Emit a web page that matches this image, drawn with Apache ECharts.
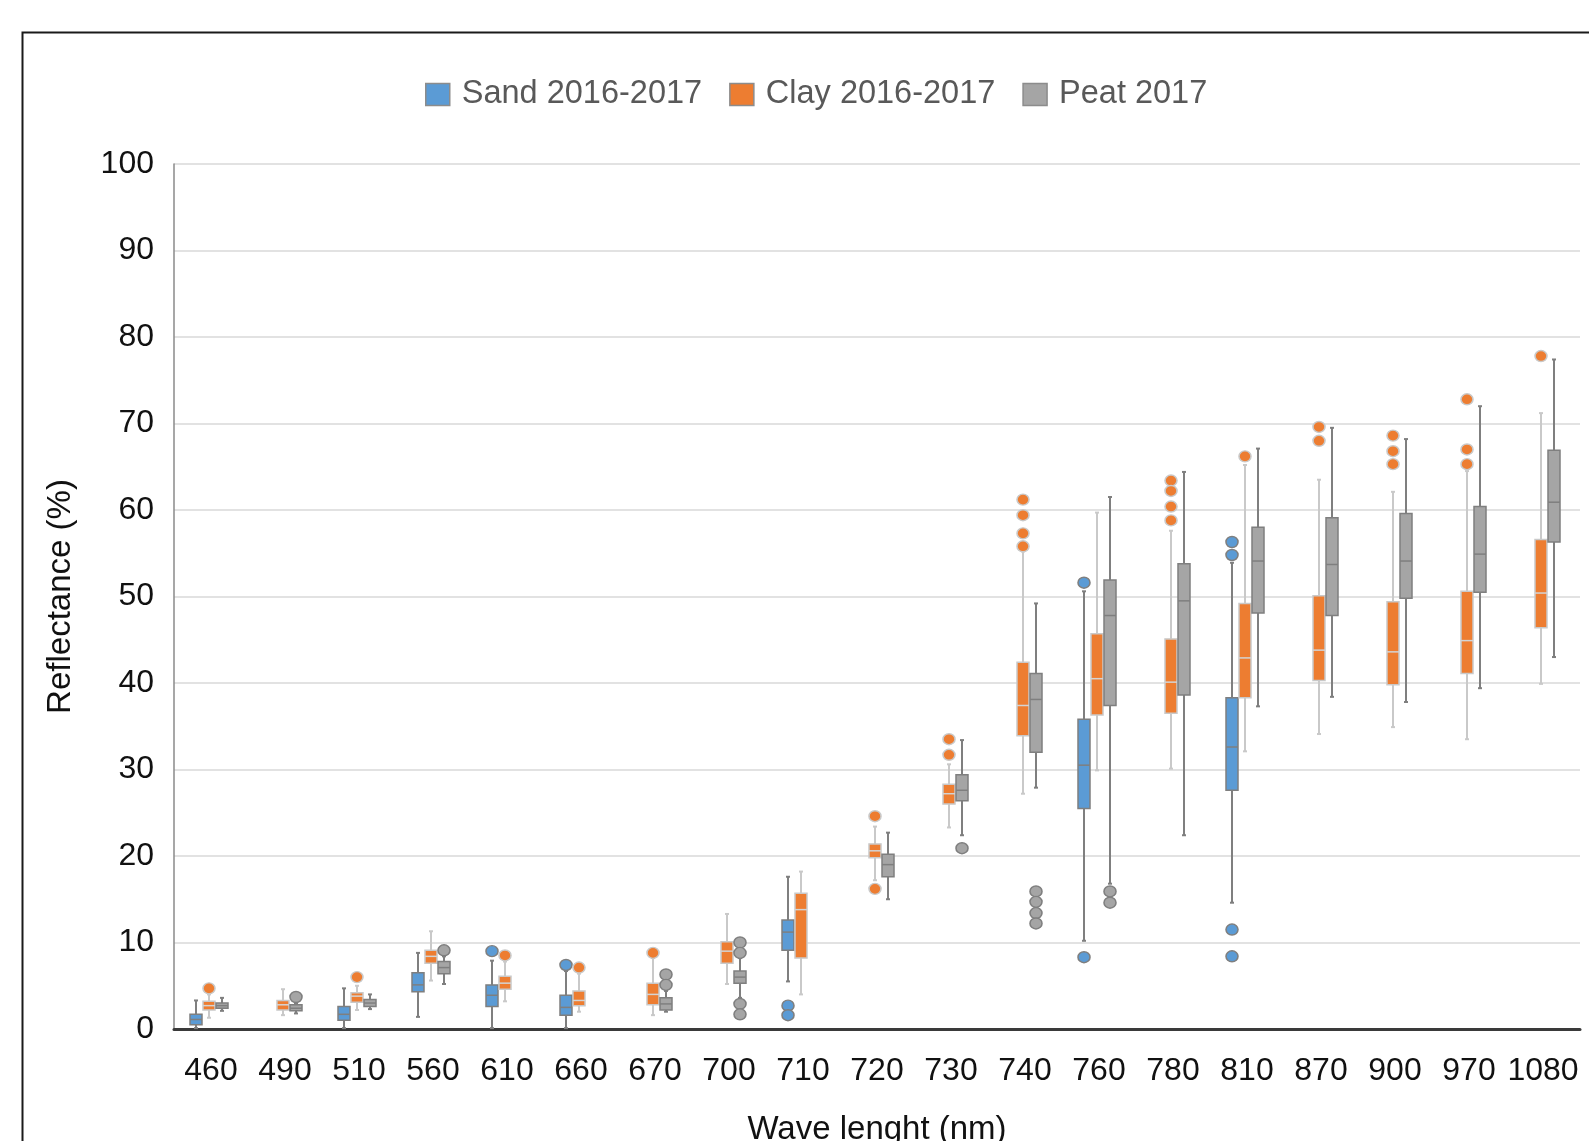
<!DOCTYPE html>
<html><head><meta charset="utf-8">
<script src="https://cdn.jsdelivr.net/npm/echarts@6/dist/echarts.min.js"></script>
<style>html,body{margin:0;padding:0;background:#fff}#c{width:1589px;height:1141px}</style>
</head><body><div id="c"></div>
<script>
// Wavelength categories (nm)
const categories = ['460','490','510','560','610','660','670','700','710','720','730','740','760','780','810','870','900','970','1080'];
const seriesNames = ['Sand 2016-2017', 'Clay 2016-2017', 'Peat 2017'];
// Box statistics per category: [min, Q1, median, Q3, max]; null = no box
const sandBoxes = [
  [0.1, 0.5, 1.1, 1.7, 3.3], null, [0.1, 1.0, 1.7, 2.6, 4.7], [1.4, 4.3, 5.1, 6.5, 8.8],
  [0.1, 2.6, 3.9, 5.1, 7.9], [0.1, 1.6, 2.5, 3.9, 6.7], null, null, [5.5, 9.1, 11.2, 12.6, 17.6],
  null, null, null, [10.2, 25.5, 30.5, 35.8, 50.6], null, [14.6, 27.6, 32.6, 38.3, 53.9],
  null, null, null, null
];
const clayBoxes = [
  [1.3, 2.2, 2.7, 3.2, 4.0], [1.6, 2.2, 2.8, 3.3, 4.6], [2.2, 3.1, 3.8, 4.2, 5.0], [5.6, 7.6, 8.4, 9.1, 11.3],
  [3.2, 4.6, 5.3, 6.1, 7.8], [2.0, 2.7, 3.3, 4.4, 6.4], [1.6, 2.8, 4.0, 5.3, 8.2], [5.2, 7.6, 9.0, 10.1, 13.3],
  [4.0, 8.2, 13.8, 15.7, 18.2], [17.2, 19.8, 20.6, 21.4, 23.4], [23.3, 26.0, 27.2, 28.3, 30.6],
  [27.2, 33.9, 37.4, 42.4, 55.2], [29.9, 36.3, 40.5, 45.7, 59.7], [30.1, 36.5, 40.1, 45.1, 57.6],
  [32.1, 38.3, 42.9, 49.2, 65.2], [34.1, 40.3, 43.8, 50.1, 63.5], [34.9, 39.8, 43.6, 49.4, 62.1],
  [33.5, 41.1, 44.9, 50.6, 64.5], [39.9, 46.4, 50.4, 56.6, 71.2]
];
const peatBoxes = [
  [2.1, 2.4, 2.7, 3.0, 3.6], [1.8, 2.1, 2.4, 2.8, 3.0], [2.3, 2.6, 3.0, 3.4, 4.0], [5.2, 6.4, 7.1, 7.8, 8.4],
  null, null, [2.0, 2.2, 2.9, 3.6, 4.4], [3.6, 5.3, 6.0, 6.7, 8.2], null,
  [15.0, 17.6, 19.0, 20.2, 22.7], [22.4, 26.4, 27.6, 29.4, 33.4], [27.9, 32.0, 38.1, 41.1, 49.2],
  [16.8, 37.4, 47.8, 51.9, 61.5], [22.4, 38.6, 49.5, 53.8, 64.4], [37.3, 48.1, 54.1, 58.0, 67.1],
  [38.4, 47.8, 53.7, 59.1, 69.5], [37.8, 49.8, 54.1, 59.6, 68.2], [39.4, 50.5, 54.9, 60.4, 72.0],
  [43.0, 56.3, 60.9, 66.9, 77.4]
];
// Outliers: [category, value]
const sandOutliers = [
  ['610', 9.0], ['660', 7.4], ['710', 2.7], ['710', 1.6], ['760', 51.6], ['760', 8.3],
  ['810', 56.3], ['810', 54.8], ['810', 11.5], ['810', 8.4]
];
const clayOutliers = [
  ['460', 4.7], ['510', 6.0], ['610', 8.5], ['660', 7.1], ['670', 8.8],
  ['720', 24.6], ['720', 16.2], ['730', 33.5], ['730', 31.7],
  ['740', 61.2], ['740', 59.4], ['740', 57.3], ['740', 55.8],
  ['780', 63.4], ['780', 62.2], ['780', 60.4], ['780', 58.8],
  ['810', 66.2], ['870', 69.6], ['870', 68.0], ['900', 68.6], ['900', 66.8], ['900', 65.3],
  ['970', 72.8], ['970', 67.0], ['970', 65.3], ['1080', 77.8]
];
const peatOutliers = [
  ['490', 3.7], ['560', 9.1], ['670', 6.3], ['670', 5.1],
  ['700', 10.0], ['700', 8.8], ['700', 2.9], ['700', 1.7], ['730', 20.9],
  ['740', 15.9], ['740', 14.7], ['740', 13.4], ['740', 12.2], ['760', 15.9], ['760', 14.6]
];

const FONT = "'Liberation Sans', Arial, sans-serif";
const BOX_W = 12;
const styles = [
  {fill: '#5b9bd5', border: '#7f7f7f', whisker: '#7f7f7f', median: '#7f7f7f', offset: -15},
  {fill: '#ed7d31', border: '#c9c9c9', whisker: '#c9c9c9', median: '#d4d4d4', offset: -2},
  {fill: '#a5a5a5', border: '#7f7f7f', whisker: '#7f7f7f', median: '#7f7f7f', offset: 11}
];

function toData(boxes) {
  const out = [];
  boxes.forEach((b, i) => { if (b) out.push([i].concat(b)); });
  return out;
}

function boxRenderer(st) {
  return function (params, api) {
    const ci = api.value(0);
    const xc = api.coord([ci, 0])[0] + st.offset;
    const y = k => api.coord([ci, api.value(k)])[1];
    const yMin = y(1), yQ1 = y(2), yMed = y(3), yQ3 = y(4), yMax = y(5);
    const hw = BOX_W / 2;
    const ls = {stroke: st.whisker, lineWidth: 2};
    return {
      type: 'group',
      children: [
        {type: 'line', shape: {x1: xc, y1: yMax, x2: xc, y2: yQ3}, style: ls},
        {type: 'line', shape: {x1: xc, y1: yQ1, x2: xc, y2: yMin}, style: ls},
        {type: 'line', shape: {x1: xc - 2, y1: yMax, x2: xc + 2, y2: yMax}, style: ls},
        {type: 'line', shape: {x1: xc - 2, y1: yMin, x2: xc + 2, y2: yMin}, style: ls},
        {type: 'rect', shape: {x: xc - hw, y: yQ3, width: BOX_W, height: yQ1 - yQ3},
          style: {fill: st.fill, stroke: st.border, lineWidth: 1.5}},
        {type: 'line', shape: {x1: xc - hw, y1: yMed, x2: xc + hw, y2: yMed},
          style: {stroke: st.median, lineWidth: 1.5}}
      ]
    };
  };
}

const allBoxes = [sandBoxes, clayBoxes, peatBoxes];
const allOutliers = [sandOutliers, clayOutliers, peatOutliers];
const series = [];
seriesNames.forEach((name, i) => {
  series.push({
    name: name, type: 'custom', renderItem: boxRenderer(styles[i]),
    itemStyle: {color: styles[i].fill},
    encode: {x: 0, y: [1, 2, 3, 4, 5]},
    data: toData(allBoxes[i]), z: 2 + i
  });
});
seriesNames.forEach((name, i) => {
  series.push({
    name: name, type: 'scatter', symbol: 'circle', symbolSize: [12, 11],
    symbolOffset: [styles[i].offset, 0],
    itemStyle: {color: styles[i].fill, borderColor: styles[i].border, borderWidth: 1.5, opacity: 1},
    data: allOutliers[i], z: 5
  });
});

const chart = echarts.init(document.getElementById('c'), null, {renderer: 'canvas'});
chart.setOption({
  animation: false,
  backgroundColor: '#ffffff',
  graphic: [{
    type: 'rect', left: 20, top: 30, shape: {width: 1620, height: 1200},
    style: {fill: 'none', stroke: '#1a1a1a', lineWidth: 2}, z: 0, silent: true
  }],
  legend: {
    left: 420, top: 73, itemWidth: 24, itemHeight: 22, itemGap: 27,
    textStyle: {fontSize: 32.5, color: '#595959', fontFamily: FONT, padding: [0, 0, 0, 7]},
    data: seriesNames.map((n, i) => ({
      name: n, icon: 'rect',
      itemStyle: {color: styles[i].fill, borderColor: '#8c8c8c', borderWidth: 1.5}
    }))
  },
  grid: {left: 174, right: 9, top: 164, bottom: 112, containLabel: false, outerBoundsMode: 'none'},
  xAxis: {
    type: 'category', data: categories, boundaryGap: true,
    axisLine: {show: true, lineStyle: {color: '#3a3a3a', width: 3}},
    axisTick: {show: false},
    axisLabel: {fontSize: 32, color: '#111', fontFamily: FONT, margin: 26, interval: 0},
    splitLine: {show: false},
    name: 'Wave lenght (nm)', nameLocation: 'middle', nameGap: 84,
    nameTextStyle: {fontSize: 33, color: '#111', fontFamily: FONT}
  },
  yAxis: {
    type: 'value', min: 0, max: 100, interval: 10,
    axisLine: {show: true, lineStyle: {color: '#8a8a8a', width: 1.5}},
    axisTick: {show: false},
    axisLabel: {fontSize: 32, color: '#111', fontFamily: FONT, margin: 20},
    splitLine: {show: true, lineStyle: {color: '#d9d9d9', width: 1.5}},
    name: 'Reflectance (%)', nameLocation: 'middle', nameGap: 97, nameRotate: 90,
    nameTextStyle: {fontSize: 33, color: '#111', fontFamily: FONT}
  },
  series: series
});
</script></body></html>
